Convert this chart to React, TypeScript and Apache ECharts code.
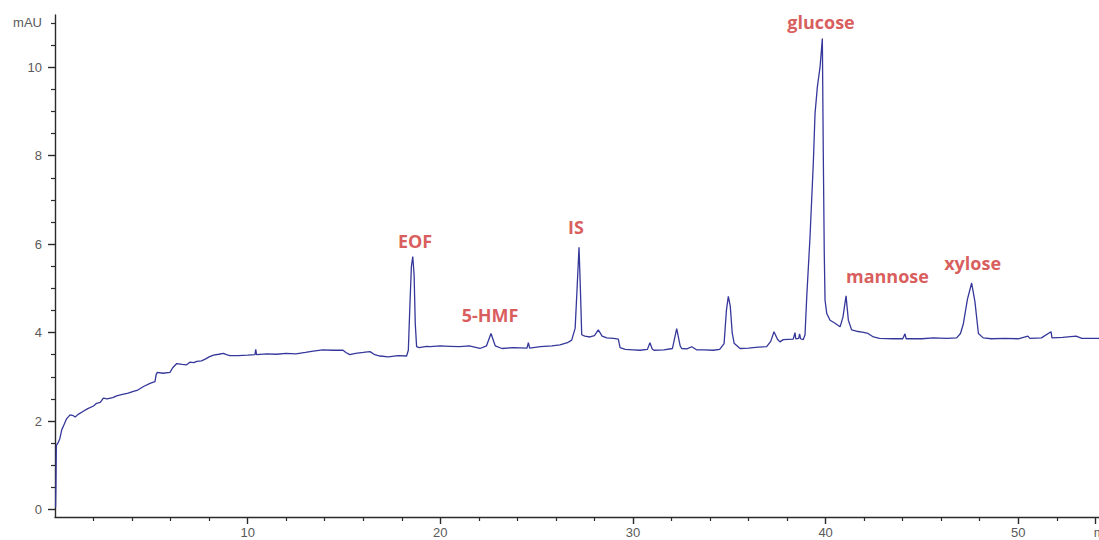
import React, { useEffect, useRef } from "react";
import * as echarts from "echarts";

// Electropherogram trace: migration time (min) and absorbance (mAU)
const TIME = [
  0.03, 0.05, 0.07, 0.15, 0.25, 0.35, 0.45, 0.6, 0.78, 0.95, 1.05, 1.2, 1.47, 1.7, 2.0, 2.16, 2.35, 2.51, 2.7, 3.0,
  3.2, 3.5, 3.8, 4.07, 4.3, 4.6, 4.93, 5.19, 5.25, 5.31, 5.6, 5.97, 6.1, 6.32, 6.6, 6.83, 7.0, 7.2, 7.36, 7.6,
  7.8, 8.0, 8.22, 8.5, 8.74, 8.9, 9.08, 9.5, 10.0, 10.38, 10.42, 10.46, 11.0, 11.5, 12.0, 12.5, 13.0, 13.4, 13.9, 14.4,
  14.95, 15.1, 15.3, 15.6, 16.0, 16.35, 16.6, 16.87, 17.3, 17.8, 18.25, 18.34, 18.42, 18.5, 18.57, 18.64, 18.7, 18.77, 18.9, 19.29,
  19.47, 20.0, 20.5, 21.0, 21.5, 22.06, 22.4, 22.63, 22.85, 23.2, 23.8, 24.5, 24.57, 24.64, 25.2, 25.8, 26.21, 26.6, 26.82, 27.0,
  27.1, 27.2, 27.27, 27.34, 27.5, 27.77, 28.0, 28.2, 28.4, 28.64, 29.0, 29.24, 29.33, 29.6, 30.0, 30.37, 30.75, 30.88, 31.0, 31.09,
  31.6, 32.05, 32.27, 32.45, 32.53, 32.8, 33.05, 33.3, 33.7, 34.17, 34.5, 34.73, 34.85, 34.95, 35.05, 35.15, 35.25, 35.56, 36.0, 36.5,
  36.94, 37.15, 37.32, 37.5, 37.63, 37.8, 38.32, 38.41, 38.45, 38.6, 38.65, 38.7, 38.84, 38.93, 39.02, 39.19, 39.36, 39.45, 39.57, 39.71,
  39.83, 39.88, 39.93, 39.97, 40.06, 40.23, 40.49, 40.75, 40.9, 41.06, 41.18, 41.35, 41.6, 41.9, 42.2, 42.48, 42.8, 43.5, 44.0, 44.12,
  44.18, 45.0, 45.6, 46.3, 46.8, 47.0, 47.15, 47.36, 47.58, 47.75, 47.93, 48.18, 48.6, 49.3, 50.0, 50.5, 50.6, 51.2, 51.7, 51.75,
  52.3, 53.0, 53.3, 54.19,
];
const SIGNAL = [
  0.05, 0.6, 1.45, 1.5, 1.6, 1.8, 1.9, 2.05, 2.14, 2.12, 2.09, 2.15, 2.22, 2.28, 2.34, 2.4, 2.42, 2.52, 2.5, 2.53,
  2.57, 2.6, 2.63, 2.67, 2.7, 2.78, 2.85, 2.89, 3.05, 3.1, 3.08, 3.1, 3.2, 3.3, 3.28, 3.27, 3.33, 3.32, 3.35, 3.36,
  3.4, 3.45, 3.49, 3.51, 3.53, 3.5, 3.48, 3.48, 3.49, 3.5, 3.62, 3.5, 3.52, 3.51, 3.53, 3.52, 3.55, 3.58, 3.61, 3.6,
  3.6, 3.55, 3.5, 3.53, 3.55, 3.57, 3.5, 3.47, 3.45, 3.48, 3.47, 3.6, 4.6, 5.5, 5.72, 5.3, 4.2, 3.68, 3.66, 3.69,
  3.68, 3.7, 3.69, 3.68, 3.7, 3.64, 3.7, 3.98, 3.7, 3.64, 3.66, 3.65, 3.77, 3.65, 3.68, 3.7, 3.72, 3.77, 3.83, 4.1,
  5.0, 5.93, 5.0, 3.95, 3.92, 3.9, 3.93, 4.06, 3.92, 3.88, 3.87, 3.85, 3.66, 3.62, 3.61, 3.6, 3.62, 3.77, 3.63, 3.6,
  3.61, 3.64, 4.09, 3.7, 3.64, 3.63, 3.68, 3.61, 3.61, 3.6, 3.62, 3.75, 4.5, 4.82, 4.6, 4.0, 3.76, 3.64, 3.65, 3.67,
  3.68, 3.8, 4.02, 3.85, 3.79, 3.84, 3.85, 4.0, 3.86, 3.87, 3.97, 3.86, 3.84, 3.95, 4.81, 6.16, 7.82, 8.95, 9.55, 10.0,
  10.65, 8.0, 5.79, 4.73, 4.43, 4.28, 4.21, 4.13, 4.35, 4.83, 4.28, 4.06, 4.03, 4.01, 3.98, 3.9, 3.87, 3.86, 3.86, 3.97,
  3.86, 3.86, 3.88, 3.87, 3.88, 3.98, 4.2, 4.75, 5.12, 4.7, 3.98, 3.88, 3.86, 3.87, 3.86, 3.92, 3.87, 3.88, 4.02, 3.88,
  3.89, 3.92, 3.87, 3.87,
];

// Peak annotations (name, label anchor time, label anchor mAU)
const PEAK_NAMES = ["EOF", "5-HMF", "IS", "glucose", "mannose", "xylose"];
const PEAK_LABEL_TIME = [18.69, 22.58, 27.04, 39.76, 43.21, 47.63];
const PEAK_LABEL_SIGNAL = [6.07, 4.4, 6.38, 11.02, 5.28, 5.57];

// Axis ticks
const X_MAJOR = [10, 20, 30, 40, 50, 54];
const X_MINOR = [2, 4, 6, 8, 12, 14, 16, 18, 22, 24, 26, 28, 32, 34, 36, 38, 42, 44, 46, 48, 52];
const Y_MAJOR = [0, 2, 4, 6, 8, 10];
const Y_LABELS = [0, 2, 4, 6, 8, 10, 11];
const Y_MINOR = [0.5, 1, 1.5, 2.5, 3, 3.5, 4.5, 5, 5.5, 6.5, 7, 7.5, 8.5, 9, 9.5, 10.5, 11];

const X_MIN = 0;
const X_MAX = 54.19;
const Y_MIN = -0.17;
const Y_MAX = 11.18;

export default function App() {
  const ref = useRef<HTMLDivElement>(null);

  useEffect(() => {
    document.body.style.margin = "0";
    if (!ref.current) return;
    const chart = echarts.init(ref.current, null, { renderer: "svg" });
    const axisColor = "#2a2a2a";
    const labelColor = "#5a5a5a";
    const labelFont = "Liberation Sans";
    chart.setOption({
      animation: false,
      backgroundColor: "#ffffff",
      grid: { left: 55, right: 0, top: 15, bottom: 23, containLabel: false, outerBoundsMode: "none" },
      xAxis: [
        {
          type: "value",
          min: X_MIN,
          max: X_MAX,
          position: "bottom",
          axisLine: { show: true, onZero: false, lineStyle: { color: axisColor, width: 1.4 } },
          axisTick: { show: true, customValues: X_MAJOR, length: 7, lineStyle: { color: axisColor, width: 1.4 } },
          axisLabel: {
            show: true,
            customValues: X_MAJOR,
            formatter: (v: number) => (v === 54 ? "{u|min}" : String(v)),
            color: labelColor,
            fontSize: 13,
            fontFamily: labelFont,
            margin: 9,
            rich: { u: { padding: [0, 0, 0, 18], color: labelColor, fontSize: 13, fontFamily: labelFont } },
          },
          splitLine: { show: false },
        },
        {
          type: "value",
          min: X_MIN,
          max: X_MAX,
          position: "bottom",
          axisLine: { show: false, onZero: false },
          axisTick: { show: true, customValues: X_MINOR, length: 4, lineStyle: { color: axisColor, width: 1.2 } },
          axisLabel: { show: false },
          splitLine: { show: false },
        },
      ],
      yAxis: [
        {
          type: "value",
          min: Y_MIN,
          max: Y_MAX,
          position: "left",
          axisLine: { show: true, onZero: false, lineStyle: { color: axisColor, width: 1.4 } },
          axisTick: { show: true, customValues: Y_MAJOR, length: 7, lineStyle: { color: axisColor, width: 1.4 } },
          axisLabel: {
            show: true,
            customValues: Y_LABELS,
            formatter: (v: number) => (v === 11 ? "mAU" : String(v)),
            color: labelColor,
            fontSize: 13,
            fontFamily: labelFont,
            margin: 13,
          },
          splitLine: { show: false },
        },
        {
          type: "value",
          min: Y_MIN,
          max: Y_MAX,
          position: "left",
          axisLine: { show: false, onZero: false },
          axisTick: { show: true, customValues: Y_MINOR, length: 4, lineStyle: { color: axisColor, width: 1.2 } },
          axisLabel: { show: false },
          splitLine: { show: false },
        },
      ],
      series: [
        {
          type: "line",
          xAxisIndex: 0,
          yAxisIndex: 0,
          data: TIME.map((t, i) => [t, SIGNAL[i]]),
          showSymbol: false,
          symbol: "none",
          lineStyle: { color: "#35389a", width: 1.3 },
          silent: true,
        },
        {
          type: "scatter",
          xAxisIndex: 0,
          yAxisIndex: 0,
          data: PEAK_NAMES.map((n, i) => ({ name: n, value: [PEAK_LABEL_TIME[i], PEAK_LABEL_SIGNAL[i]] })),
          symbolSize: 1,
          itemStyle: { color: "transparent" },
          silent: true,
          label: {
            show: true,
            position: "inside",
            formatter: "{b}",
            color: "#cf3232",
            fontSize: 18,
            fontWeight: "bold",
            fontFamily: "Open Sans",
          },
        },
      ],
    });
    return () => chart.dispose();
  }, []);

  return <div ref={ref} style={{ width: 1099, height: 540 }} />;
}
